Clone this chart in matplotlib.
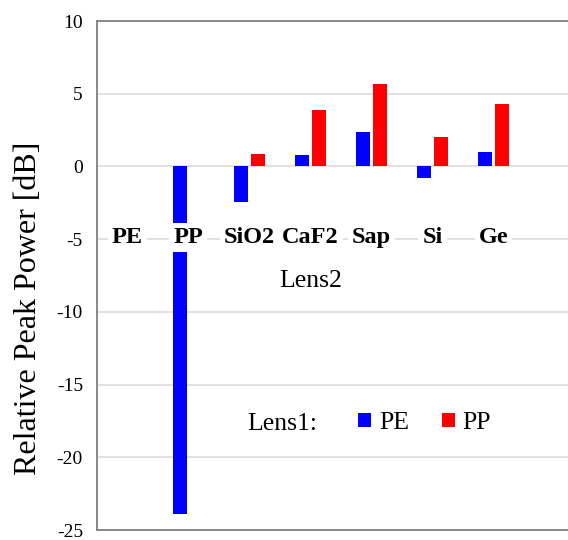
import matplotlib
matplotlib.use('Agg')
import matplotlib.pyplot as plt
from matplotlib.patches import Patch
import numpy as np

plt.rcParams['font.family'] = ['Liberation Serif', 'DejaVu Serif']
plt.rcParams['axes.unicode_minus'] = False

# Lens2 materials
lens2 = ['PE', 'PP', 'SiO2', 'CaF2', 'Sap', 'Si', 'Ge']
# relative peak power [dB], Lens1 = PE / PP
pe_vals = [0.0, -23.9, -2.45, 0.8, 2.37, -0.78, 0.97]
pp_vals = [0.0, 0.0, 0.87, 3.9, 5.7, 2.0, 4.3]
yticks = [-25, -20, -15, -10, -5, 0, 5, 10]

blue = '#0000ff'
red = '#ff0000'

fig = plt.figure(figsize=(5.68, 5.40), dpi=100)
ax = fig.add_axes([0.1705, 0.0185, 0.8295, 0.9425])

x = np.arange(len(lens2))
w = 0.224
off = 0.141
ax.bar(x - off, pe_vals, w, color=blue, zorder=2)
ax.bar(x + off, pp_vals, w, color=red, zorder=2)

ax.set_xlim(-0.5, 7.22)
ax.set_ylim(-25, 10)
ax.set_yticks(yticks)
ax.set_xticks([])
ax.tick_params(axis='y', length=0, pad=10, labelsize=14)
ax.yaxis.grid(True, color='#dcdcdc', linewidth=1.2, zorder=0)
ax.set_axisbelow(True)
for s in ['left', 'top', 'bottom']:
    ax.spines[s].set_color('#808080')
    ax.spines[s].set_linewidth(1.3)
ax.spines['right'].set_visible(False)

# category labels inside the plot
for i, name in enumerate(lens2):
    ax.text(i, -4.87, name, ha='center', va='center', fontsize=17.5,
            fontweight='bold', zorder=4,
            bbox=dict(facecolor='white', edgecolor='none', pad=3.0))

ax.text(3, -7.9, 'Lens2', ha='center', va='center', fontsize=18.5)
ax.text(2.54, -17.7, 'Lens1:', ha='center', va='center', fontsize=18.5)

handles = [Patch(facecolor=blue, edgecolor='none', label='PE'),
           Patch(facecolor=red, edgecolor='none', label='PP')]
ax.legend(handles=handles, ncol=2, frameon=False, fontsize=18.5,
          loc='center', bbox_to_anchor=(0.696, 0.21),
          handlelength=0.5, handleheight=0.5, handletextpad=0.3,
          columnspacing=1.3)

ax.set_ylabel('Relative Peak Power [dB]', fontsize=23)
ax.yaxis.set_label_coords(-0.115, 0.436)

fig.savefig('out.png', dpi=100)
